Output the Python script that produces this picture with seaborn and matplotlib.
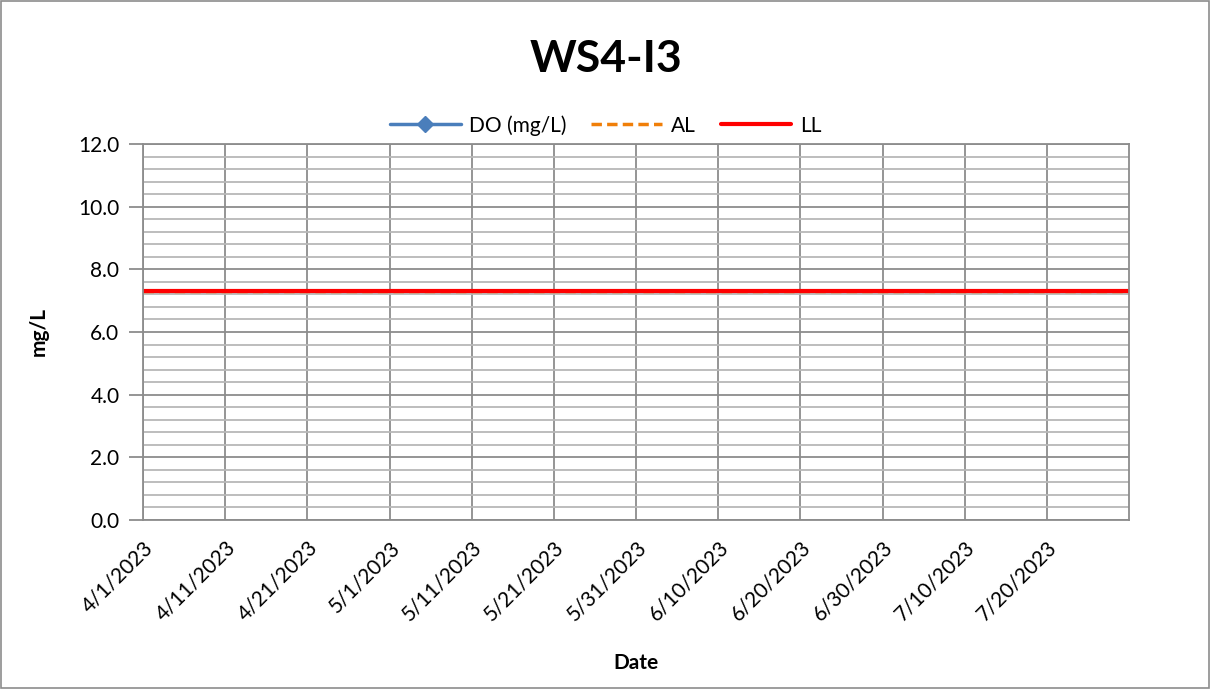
import pandas as pd
import numpy as np
import matplotlib.pyplot as plt
from matplotlib.ticker import MultipleLocator
from matplotlib.patches import Rectangle
import seaborn as sns

# data
title = "WS4-I3"
do_dates = []          # no DO readings shown
do_values = []
limit_dates = ["2023-04-01", "2023-07-30"]
al_values = [7.3, 7.3]
ll_values = [7.3, 7.3]
tick_dates = ["2023-04-01", "2023-04-11", "2023-04-21", "2023-05-01", "2023-05-11",
              "2023-05-21", "2023-05-31", "2023-06-10", "2023-06-20", "2023-06-30",
              "2023-07-10", "2023-07-20"]
tick_labels = ["4/1/2023", "4/11/2023", "4/21/2023", "5/1/2023", "5/11/2023",
               "5/21/2023", "5/31/2023", "6/10/2023", "6/20/2023", "6/30/2023",
               "7/10/2023", "7/20/2023"]

sns.set_style("white")
plt.rcParams['font.family'] = ['Lato', 'DejaVu Sans']
plt.rcParams['text.color'] = 'black'
plt.rcParams['xtick.color'] = 'black'
plt.rcParams['ytick.color'] = 'black'
plt.rcParams['axes.labelcolor'] = 'black'

do_df = pd.DataFrame({"Date": pd.to_datetime(do_dates), "val": pd.Series(do_values, dtype=float)})
lim_df = pd.DataFrame({"Date": pd.to_datetime(limit_dates), "AL": al_values, "LL": ll_values})

fig = plt.figure(figsize=(12.11, 6.89), dpi=100)
ax = fig.add_axes([0.1181, 0.2453, 0.8142, 0.5457])

ax.plot(do_df["Date"], do_df["val"], color="#4a7ebb", marker="D", markersize=8, lw=2.5, label="DO (mg/L)")
sns.lineplot(data=lim_df, x="Date", y="AL", ax=ax, color="#f07f09", lw=2.5, linestyle=(0, (3, 1.5)), label="AL")
sns.lineplot(data=lim_df, x="Date", y="LL", ax=ax, color="#ff0000", lw=3, label="LL")

ax.set_xlim(pd.Timestamp("2023-04-01"), pd.Timestamp("2023-07-30"))
ax.set_ylim(0, 12)
ax.yaxis.set_major_locator(MultipleLocator(2))
ax.yaxis.set_minor_locator(MultipleLocator(0.4))
ax.set_yticklabels([f"{v:.1f}" for v in ax.get_yticks()])
ax.set_xticks(pd.to_datetime(tick_dates))
ax.set_xticklabels(tick_labels, rotation=45, ha="right", rotation_mode="anchor")

ax.grid(which="major", color="#8c8c8c", lw=1.3)
ax.grid(which="minor", axis="y", color="#b8b8b8", lw=1.3)
ax.set_axisbelow(True)
for s in ax.spines.values():
    s.set_color("#8c8c8c")
    s.set_linewidth(1.3)

ax.tick_params(axis="y", which="major", left=True, length=10, width=1.3, color="#8c8c8c",
               labelcolor="black", labelsize=15, pad=7)
ax.tick_params(axis="x", which="major", bottom=False, labelcolor="black", labelsize=15, pad=9)

ax.set_xlabel("Date", fontsize=15, fontweight="bold", labelpad=20)
ax.set_ylabel("mg/L", fontsize=15, fontweight="bold", labelpad=21)
fig.text(0.5, 0.915, title, ha="center", va="center", fontsize=32, fontweight="bold")

ax.legend(loc="lower center", bbox_to_anchor=(0.5, 0.791), bbox_transform=fig.transFigure,
          ncol=3, frameon=False, fontsize=15, handlelength=3.4, handletextpad=0.4,
          columnspacing=1.2, borderaxespad=0)

fig.patches.append(Rectangle((0.001, 0.001), 0.997, 0.997, transform=fig.transFigure,
                             fill=False, edgecolor="#8c8c8c", lw=1.2))

fig.savefig("out.png", dpi=100)
